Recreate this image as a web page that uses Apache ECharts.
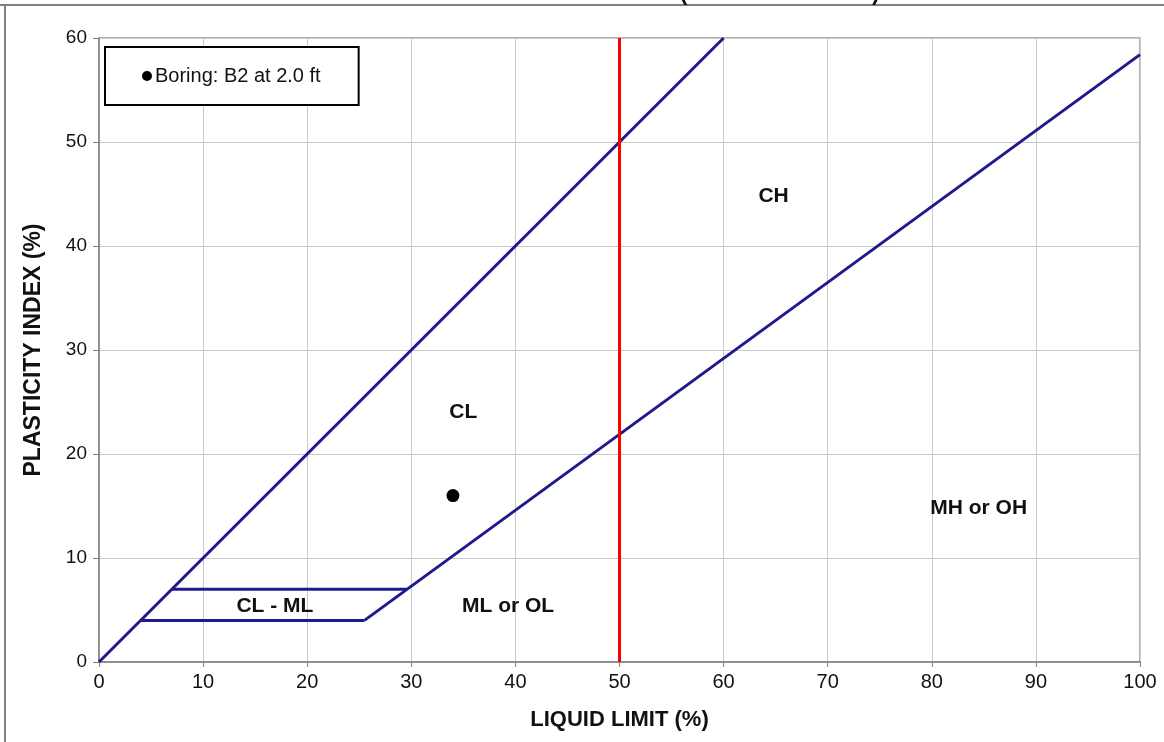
<!DOCTYPE html>
<html>
<head>
<meta charset="utf-8">
<script src="https://cdn.jsdelivr.net/npm/echarts@6/dist/echarts.min.js"></script>
<style>
html,body{margin:0;padding:0;background:#fff;}
#chart{width:1164px;height:742px;}
</style>
</head>
<body>
<div id="chart"></div>
<script>
// ---- data ----
var xTicks = [0,10,20,30,40,50,60,70,80,90,100];
var yTicks = [0,10,20,30,40,50,60];
var upperLine = [[0,0],[60,60]];
var aLine = [[25.5,4],[100,58.4]];
var clmlTop = [[7,7],[29.6,7]];
var clmlBottom = [[4,4],[25.5,4]];
var llLimit = [[50,0],[50,60]];
var boringB2 = [[34,16]];
var regionNames = ['CH','CL','MH or OH','ML or OL','CL - ML'];
var regionPos = [[64.8,44.8],[35,24],[84.5,14.8],[39.3,5.4],[16.9,5.4]];
var legendName = 'Boring: B2 at 2.0 ft';

var navy = '#1f1a8c';
var fontFam = '"Liberation Sans", Arial, sans-serif';

function lineSeries(data, color){
  return {type:'line', data:data, showSymbol:false, symbol:'none', silent:true,
    lineStyle:{color:color, width:3}, z:3, animation:false};
}

var chart = echarts.init(document.getElementById('chart'), null, {renderer:'canvas'});
chart.setOption({
  animation:false,
  backgroundColor:'#fff',
  textStyle:{fontFamily:fontFam},
  grid:{left:99, right:24, top:38, bottom:80, show:true, borderColor:'#9a9a9a', borderWidth:1.5, backgroundColor:'transparent'},
  xAxis:{type:'value', min:0, max:100, interval:10,
    name:'LIQUID LIMIT (%)', nameLocation:'middle', nameGap:47,
    nameTextStyle:{fontSize:22, fontWeight:'bold', color:'#111', fontFamily:fontFam},
    axisLine:{show:true, onZero:false, lineStyle:{color:'#808080', width:1.5}},
    axisTick:{show:true, inside:false, length:5, lineStyle:{color:'#808080'}},
    axisLabel:{fontSize:20, color:'#111', margin:10, fontFamily:fontFam,
      formatter:function(v){return xTicks.indexOf(v)>=0 ? String(v) : '';}},
    splitLine:{show:true, lineStyle:{color:'#c8c8c8', width:1}}
  },
  yAxis:{type:'value', min:0, max:60, interval:10,
    name:'PLASTICITY INDEX (%)', nameLocation:'middle', nameGap:54, nameRotate:90,
    nameTextStyle:{fontSize:23, fontWeight:'bold', color:'#111', fontFamily:fontFam},
    axisLine:{show:true, onZero:false, lineStyle:{color:'#808080', width:1.5}},
    axisTick:{show:true, inside:false, length:6, lineStyle:{color:'#808080'}},
    axisLabel:{fontSize:19, color:'#111', margin:12, fontFamily:fontFam,
      formatter:function(v){return yTicks.indexOf(v)>=0 ? String(v) : '';}},
    splitLine:{show:true, lineStyle:{color:'#c8c8c8', width:1}}
  },
  legend:{show:true, left:105, top:47, orient:'horizontal',
    data:[{name:legendName, icon:'circle', itemStyle:{color:'#000', opacity:1}}],
    itemWidth:10, itemHeight:10, itemGap:0,
    padding:[19,38,19,37], borderColor:'#000', borderWidth:2, backgroundColor:'#fff',
    textStyle:{fontSize:20, color:'#111', fontFamily:fontFam, padding:[0,0,0,-2]}
  },
  graphic:[
    {type:'line', shape:{x1:0, y1:5, x2:1164, y2:5}, style:{stroke:'#808080', lineWidth:2}, silent:true},
    {type:'line', shape:{x1:5, y1:5, x2:5, y2:742}, style:{stroke:'#808080', lineWidth:2}, silent:true},
    {type:'text', left:680, top:-17, style:{text:'(', fontSize:22, fontWeight:'bold', fill:'#111', fontFamily:fontFam}, silent:true},
    {type:'text', left:872, top:-17, style:{text:')', fontSize:22, fontWeight:'bold', fill:'#111', fontFamily:fontFam}, silent:true}
  ],
  series:[
    lineSeries(upperLine, navy),
    lineSeries(aLine, navy),
    lineSeries(clmlTop, navy),
    lineSeries(clmlBottom, navy),
    lineSeries(llLimit, '#ff0000'),
    {type:'scatter', name:legendName, data:boringB2, symbol:'circle', symbolSize:13,
      itemStyle:{color:'#000', opacity:1}, z:5},
    {type:'scatter', silent:true, symbolSize:0, z:6,
      itemStyle:{opacity:1},
      data:regionPos.map(function(p,i){return {value:p, name:regionNames[i]};}),
      label:{show:true, position:'inside', formatter:'{b}', fontSize:21, fontWeight:'bold', color:'#111', opacity:1, fontFamily:fontFam}
    }
  ]
});
</script>
</body>
</html>
